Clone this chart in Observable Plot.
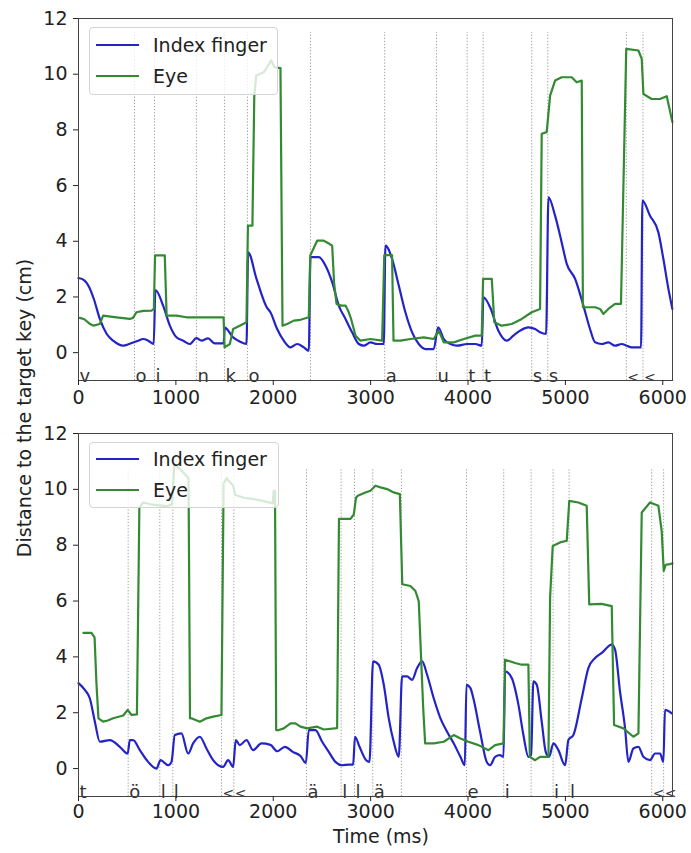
<!DOCTYPE html>
<html>
<head>
<meta charset="utf-8">
<script src="https://cdn.jsdelivr.net/npm/d3@7"></script>
<script src="https://cdn.jsdelivr.net/npm/@observablehq/plot@0.6"></script>
<style>
  html, body { margin: 0; padding: 0; background: #fff; }
  #wrap { position: relative; width: 691px; height: 853px; font-family: "DejaVu Sans", sans-serif; color: #222; overflow: hidden; }
  .panel { position: absolute; left: 0; }
  .legend { position: absolute; box-sizing: border-box; border: 1px solid #d4d4d4; border-radius: 4px; background: rgba(255,255,255,0.8); }
  .legend .item { position: absolute; left: 0; height: 0; }
  .legend .swatch { position: absolute; left: 6px; width: 43px; height: 2.4px; top: -1.2px; }
  .legend .lab { position: absolute; left: 63px; top: -12px; font-size: 19px; line-height: 24px; white-space: nowrap; color: #222; }
  .ylab { position: absolute; font-size: 19px; white-space: nowrap; transform: translate(-50%, -50%) rotate(-90deg); color: #222; }
  .xlab { position: absolute; font-size: 19px; white-space: nowrap; transform: translate(-50%, -50%); color: #222; }
</style>
</head>
<body>
<div id="wrap"></div>
<script>
// ---------- data (time in ms, distance in cm) ----------
const xTicks = [0, 1000, 2000, 3000, 4000, 5000, 6000];
const yTicks = [0, 2, 4, 6, 8, 10, 12];
const seriesNames = ["Index finger", "Eye"];
const seriesColors = ["#2424c6", "#338a33"];

const topKeyTimes  = [0, 575, 780, 1211, 1499, 1735, 2382, 3144, 3676, 3991, 4155, 4654, 4819, 5626, 5797];
const topKeyLabels = ["v", "o", "i", "n", "k", "o", "", "a", "u", "t", "t", "s", "s", "<", "<"];
const bottomKeyTimes  = [0, 510, 835, 969, 1469, 1595, 2341, 2697, 2834, 3022, 3316, 3984, 4367, 4648, 4874, 5038, 5886, 6009];
const bottomKeyLabels = ["t", "ö", "l", "l", "<", "<", "ä", "l", "l", "ä", "", "e", "i", "", "i", "l", "<", "<"];
const keyLineTop = [11.5, 10.7];

const topFinger = [
  [0,2.68],[60,2.6],[110,2.35],[160,1.9],[220,1.2],[290,0.67],[356,0.43],[459,0.25],[527,0.32],[613,0.43],
  [664,0.49],[715,0.43],[772,0.31],[790,2.25],[869,1.69],[938,0.97],[1006,0.55],[1075,0.43],[1143,0.31],
  [1211,0.52],[1263,0.43],[1331,0.51],[1400,0.33],[1490,0.33],[1502,0.9],[1588,0.55],[1656,0.4],[1725,0.31],
  [1742,3.6],[1828,2.65],[1930,1.65],[1971,1.45],[2040,0.85],[2108,0.43],[2177,0.19],[2245,0.31],[2314,0.19],
  [2365,0.07],[2382,3.43],[2468,3.43],[2536,3.13],[2605,2.53],[2673,1.69],[2742,1.21],[2810,0.73],[2879,0.31],
  [2930,0.25],[2998,0.37],[3067,0.31],[3135,0.31],[3152,3.84],[3220,3.37],[3289,2.41],[3357,1.45],[3426,0.73],
  [3494,0.31],[3563,0.13],[3648,0.13],[3693,0.91],[3751,0.49],[3820,0.31],[3888,0.25],[3991,0.31],[4076,0.31],
  [4141,0.25],[4158,1.99],[4227,1.63],[4312,0.79],[4398,0.43],[4466,0.61],[4535,0.79],[4620,0.91],[4689,0.85],
  [4740,0.73],[4802,0.67],[4826,5.58],[4894,4.92],[4962,3.96],[5014,3.19],[5100,2.65],[5185,1.69],[5253,0.85],
  [5305,0.37],[5373,0.31],[5441,0.37],[5510,0.25],[5578,0.31],[5630,0.25],[5681,0.19],[5777,0.19],[5791,5.46],
  [5869,4.92],[5955,4.32],[6006,3.37],[6058,2.29],[6099,1.57]
];
const topEye = [
  [14,1.25],[60,1.2],[110,1.05],[151,0.97],[219,1.03],[253,1.33],[390,1.27],[527,1.21],[560,1.25],[595,1.45],
  [664,1.5],[750,1.51],[774,1.57],[786,3.49],[886,3.49],[905,1.33],[1006,1.33],[1109,1.27],[1211,1.27],
  [1348,1.27],[1490,1.27],[1500,0.19],[1554,0.31],[1588,0.85],[1656,0.97],[1725,1.09],[1740,4.56],[1786,4.56],
  [1805,9.2],[1825,9.95],[1903,10.07],[1937,10.25],[1978,10.5],[2012,10.25],[2074,10.22],[2095,0.97],
  [2142,1.03],[2211,1.15],[2279,1.18],[2365,1.27],[2380,3.49],[2451,4.02],[2519,4.02],[2580,3.9],[2605,3.84],
  [2625,2.5],[2650,1.75],[2700,1.69],[2742,1.69],[2770,1.5],[2800,1.2],[2845,0.61],[2896,0.43],[2998,0.49],
  [3118,0.43],[3140,3.5],[3220,3.5],[3235,0.43],[3306,0.43],[3409,0.49],[3546,0.55],[3648,0.49],[3700,0.79],
  [3751,0.37],[3854,0.37],[3957,0.49],[4076,0.61],[4141,0.61],[4155,2.65],[4244,2.65],[4270,1.09],[4346,0.97],
  [4449,1.03],[4552,1.21],[4654,1.45],[4740,1.57],[4757,7.86],[4808,7.92],[4843,9.23],[4894,9.77],[4962,9.89],
  [5065,9.89],[5116,9.71],[5168,9.77],[5180,1.63],[5305,1.63],[5356,1.57],[5390,1.39],[5441,1.57],[5510,1.75],
  [5571,1.75],[5625,10.91],[5750,10.85],[5784,10.55],[5801,9.29],[5886,9.11],[5972,9.11],[6041,9.21],[6099,8.28]
];
const bottomFinger = [
  [0,3.06],[65,2.82],[116,2.52],[168,1.68],[219,0.96],[322,1.02],[424,0.78],[505,0.54],[527,1.02],[561,1.02],
  [630,0.66],[715,0.24],[801,0.0],[842,0.3],[921,0.12],[955,0.24],[989,1.2],[1057,1.26],[1126,0.54],[1177,0.9],
  [1246,1.14],[1314,0.72],[1383,0.3],[1485,0.06],[1537,0.3],[1588,0.06],[1615,1.02],[1656,0.84],[1725,1.02],
  [1793,0.66],[1879,0.9],[1971,0.85],[2040,0.62],[2120,0.78],[2200,0.6],[2280,0.45],[2335,0.2],[2365,1.38],
  [2433,1.38],[2502,0.96],[2570,0.6],[2639,0.24],[2707,0.12],[2776,0.14],[2820,0.14],[2840,1.14],[2886,0.78],
  [2954,0.3],[2988,0.24],[3025,3.84],[3083,3.72],[3135,3.0],[3186,1.8],[3237,0.96],[3289,0.42],[3323,3.3],
  [3374,3.3],[3426,3.18],[3477,3.6],[3529,3.84],[3580,3.36],[3648,2.52],[3717,1.8],[3785,1.32],[3854,0.9],
  [3922,0.42],[3967,0.12],[3984,3.0],[4025,2.88],[4055,2.52],[4124,1.32],[4192,0.24],[4227,0.12],[4278,0.42],
  [4329,0.48],[4364,0.42],[4381,3.48],[4449,3.24],[4518,2.28],[4569,1.2],[4620,0.42],[4648,0.48],[4671,3.12],
  [4706,3.0],[4757,1.68],[4798,0.6],[4832,0.42],[4877,0.9],[4928,0.66],[4997,0.12],[5031,1.02],[5082,1.2],
  [5168,2.52],[5236,3.6],[5305,3.96],[5373,4.14],[5476,4.44],[5510,4.26],[5561,2.76],[5613,1.44],[5647,0.24],
  [5698,0.72],[5750,0.78],[5801,0.42],[5869,0.3],[5921,0.54],[5972,0.54],[6006,0.24],[6023,2.1],[6092,1.98]
];
const bottomEye = [
  [50,4.86],[133,4.86],[165,4.7],[185,3.0],[205,1.8],[253,1.68],[300,1.72],[356,1.8],[459,1.9],[505,2.1],
  [544,1.92],[600,1.94],[625,9.35],[664,9.53],[760,9.45],[900,9.4],[960,9.45],[985,10.9],[1050,10.7],
  [1130,10.4],[1145,1.8],[1160,1.8],[1246,1.68],[1314,1.8],[1383,1.86],[1468,1.92],[1490,10.2],[1520,10.4],
  [1588,10.13],[1610,9.8],[1700,9.7],[1800,9.65],[1900,9.58],[1995,9.5],[2005,9.95],[2018,9.95],[2030,1.38],
  [2057,1.38],[2108,1.44],[2177,1.62],[2228,1.62],[2279,1.5],[2348,1.44],[2451,1.5],[2519,1.4],[2656,1.45],
  [2675,8.94],[2793,8.94],[2827,9.1],[2850,9.7],[2868,9.77],[2947,9.89],[2998,9.95],[3050,10.13],[3101,10.07],
  [3169,10.01],[3237,9.89],[3300,9.83],[3325,6.6],[3409,6.54],[3460,6.36],[3494,6.0],[3540,2.16],[3560,0.9],
  [3648,0.9],[3751,0.96],[3854,1.2],[3922,1.08],[4004,0.96],[4107,0.84],[4210,0.66],[4278,0.84],[4364,0.9],
  [4380,3.9],[4483,3.78],[4552,3.72],[4620,3.72],[4635,0.42],[4689,0.3],[4740,0.42],[4826,0.42],[4843,6.12],
  [4870,7.97],[4945,8.1],[5014,8.16],[5040,9.59],[5133,9.53],[5219,9.41],[5245,5.88],[5373,5.9],[5476,5.82],
  [5500,1.56],[5596,1.44],[5698,1.14],[5750,1.26],[5784,9.17],[5869,9.53],[5955,9.41],[5989,8.51],[6010,7.08],
  [6030,7.3],[6058,7.31],[6100,7.35]
];

// ---------- drawing ----------
const W = 691;
const wrap = document.getElementById("wrap");

function panel({finger, eye, keyT, keyL, ruleTop, height, marginTop, marginBottom, xPad}) {
  const keys = keyT.map((t, i) => ({t, k: keyL[i]}));
  return Plot.plot({
    width: W, height,
    marginLeft: 78, marginRight: 19, marginTop, marginBottom,
    style: {fontFamily: "DejaVu Sans, sans-serif", fontSize: "19px", background: "transparent", overflow: "visible", color: "#222"},
    x: {domain: [0, 6100]},
    y: {domain: [-1, 12]},
    marks: [
      Plot.ruleX(keys, {x: "t", y1: -1, y2: ruleTop, stroke: "#a0a0a0", strokeWidth: 1, strokeDasharray: "1.3,1.8"}),
      Plot.line(finger, {x: d => d[0], y: d => d[1], stroke: seriesColors[0], strokeWidth: 2.2, curve: "monotone-x"}),
      Plot.line(eye, {x: d => d[0], y: d => d[1], stroke: seriesColors[1], strokeWidth: 2.2}),
      Plot.text(keys, {x: "t", y: -1, text: "k", textAnchor: "start", lineAnchor: "bottom",
                       fontSize: d => d.k === "<" ? 14 : 18, fill: "#333", dx: 1, dy: 1}),
      Plot.frame({stroke: "#444", strokeWidth: 1}),
      Plot.axisX({ticks: xTicks, tickFormat: d => String(d), tickSize: 5, tickPadding: xPad, label: null, fontSize: 19}),
      Plot.axisY({ticks: yTicks, tickFormat: d => String(d), tickSize: 5, tickPadding: 6, label: null, fontSize: 19})
    ]
  });
}

const topSvg = panel({finger: topFinger, eye: topEye, keyT: topKeyTimes, keyL: topKeyLabels, ruleTop: keyLineTop[0],
                      height: 420, marginTop: 18, marginBottom: 40, xPad: 5});
topSvg.classList.add("panel"); topSvg.style.top = "0px";
wrap.appendChild(topSvg);

const botSvg = panel({finger: bottomFinger, eye: bottomEye, keyT: bottomKeyTimes, keyL: bottomKeyLabels, ruleTop: keyLineTop[1],
                      height: 433, marginTop: 13, marginBottom: 57, xPad: 3});
botSvg.classList.add("panel"); botSvg.style.top = "420px";
wrap.appendChild(botSvg);

function legend(left, top, w, h, ys) {
  const box = document.createElement("div");
  box.className = "legend";
  Object.assign(box.style, {left: left + "px", top: top + "px", width: w + "px", height: h + "px"});
  seriesNames.forEach((name, i) => {
    const item = document.createElement("div");
    item.className = "item";
    item.style.top = ys[i] + "px";
    const sw = document.createElement("div");
    sw.className = "swatch"; sw.style.background = seriesColors[i];
    const lab = document.createElement("div");
    lab.className = "lab"; lab.textContent = name;
    item.appendChild(sw); item.appendChild(lab);
    box.appendChild(item);
  });
  wrap.appendChild(box);
}
legend(89, 27, 189, 68, [17, 48]);
legend(89, 442, 190, 66, [16, 47]);

const ylab = document.createElement("div");
ylab.className = "ylab";
ylab.textContent = "Distance to the target key (cm)";
Object.assign(ylab.style, {left: "24px", top: "408px"});
wrap.appendChild(ylab);

const xlab = document.createElement("div");
xlab.className = "xlab";
xlab.textContent = "Time (ms)";
Object.assign(xlab.style, {left: "381px", top: "836px"});
wrap.appendChild(xlab);
</script>
</body>
</html>
